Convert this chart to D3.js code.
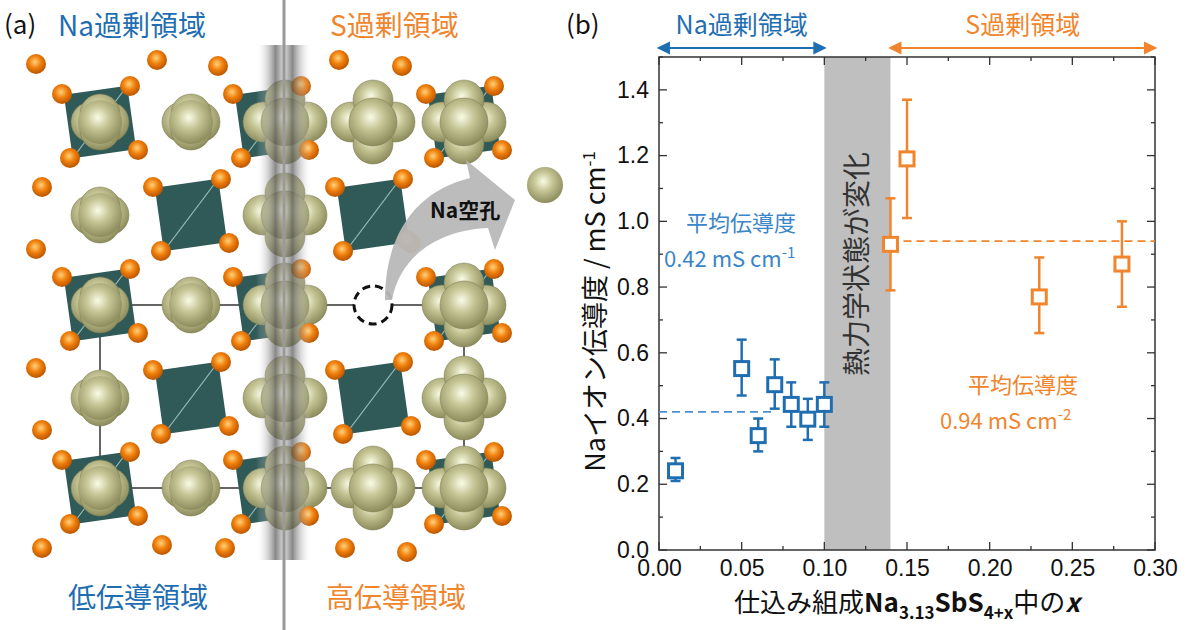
<!DOCTYPE html>
<html><head><meta charset="utf-8">
<script src="https://cdn.jsdelivr.net/npm/d3@7/dist/d3.min.js"></script>
<style>body{margin:0;background:#fff}text{font-family:"Noto Sans CJK JP","Noto Sans",sans-serif}</style>
</head><body><svg id="c" width="1200" height="630"></svg>
<script>
const blueX=[0.01,0.05,0.06,0.07,0.08,0.09,0.10];
const blueY=[0.241,0.552,0.348,0.503,0.443,0.398,0.443];
const blueLo=[0.21,0.47,0.30,0.43,0.375,0.335,0.375];
const blueHi=[0.28,0.64,0.40,0.58,0.51,0.46,0.51];
const orX=[0.14,0.15,0.23,0.28];
const orY=[0.93,1.19,0.77,0.87];
const orLo=[0.79,1.01,0.66,0.74];
const orHi=[1.07,1.37,0.89,1.00];
const xTicks=[0,0.05,0.10,0.15,0.20,0.25,0.30];
const yTicks=[0,0.2,0.4,0.6,0.8,1.0,1.2,1.4];
const blueMean=0.42, orMean=0.94, band=[0.10,0.14];
// crystal illustration sites
const tetra=[[100,122],[191,215],[100,305],[191,398],[100,488],[271,122],[271,305],[271,488],[373,215],[373,398],[464,122],[464,305],[464,488]];
const naSingle=[[100,122],[191,122],[100,215],[100,305],[191,305],[100,398],[100,488],[191,488]];
const naCluster=[[285,122],[285,215],[285,305],[285,398],[285,488],[373,122],[373,488],[464,122],[464,305],[464,398],[464,488]];
const sLoose=[[36,64],[157,60],[218,66],[339,60],[402,66],[42,187],[36,249],[36,368],[42,430],[42,548],[162,545],[225,548],[345,548],[407,552],[407,240]];

const B="#1f6eb1",O="#f0852d";
const svg=d3.select("#c");
const defs=svg.append("defs");
const rg=defs.append("radialGradient").attr("id","gs").attr("cx","45%").attr("cy","40%").attr("r","60%");
rg.append("stop").attr("offset","0%").attr("stop-color","#fbfbe6");
rg.append("stop").attr("offset","45%").attr("stop-color","#c4c494");
rg.append("stop").attr("offset","100%").attr("stop-color","#8c8c5c");
const ro=defs.append("radialGradient").attr("id","os").attr("cx","45%").attr("cy","40%").attr("r","60%");
ro.append("stop").attr("offset","0%").attr("stop-color","#ffd27a");
ro.append("stop").attr("offset","50%").attr("stop-color","#f07f0c");
ro.append("stop").attr("offset","100%").attr("stop-color","#b85500");
const sh=defs.append("linearGradient").attr("id","sh");
[[0,"#fff",0],[0.35,"#555",0.7],[0.5,"#999",0.4],[0.65,"#555",0.7],[1,"#fff",0]].forEach(s=>sh.append("stop").attr("offset",s[0]).attr("stop-color",s[1]).attr("stop-opacity",s[2]));

// ---- panel (a)
const A=svg.append("g");
A.append("path").attr("d","M100,305H464M100,488H464M100,305V488M464,305V488").attr("stroke","#333").attr("stroke-width",1.5).attr("fill","none");
tetra.forEach(([x,y])=>{
  const g=A.append("g").attr("transform",`translate(${x},${y}) rotate(-8)`);
  g.append("rect").attr("x",-32).attr("y",-32).attr("width",64).attr("height",64).attr("fill","#2f5a58");
  g.append("line").attr("x1",-30).attr("y1",30).attr("x2",30).attr("y2",-30).attr("stroke","#9bb").attr("stroke-width",1);
});
naSingle.forEach(([x,y])=>{
  [[-9,0],[9,0],[0,-8],[0,8]].forEach(d=>A.append("circle").attr("cx",x+d[0]).attr("cy",y+d[1]).attr("r",20).attr("fill","url(#gs)").attr("stroke","#7a7a50").attr("stroke-width",0.5));
  A.append("circle").attr("cx",x).attr("cy",y).attr("r",22).attr("fill","url(#gs)");
});
naCluster.forEach(([x,y])=>{
  [[-22,0],[22,0],[0,-22],[0,22]].forEach(d=>A.append("circle").attr("cx",x+d[0]).attr("cy",y+d[1]).attr("r",20).attr("fill","url(#gs)").attr("stroke","#7a7a50").attr("stroke-width",0.5));
  A.append("circle").attr("cx",x).attr("cy",y).attr("r",24).attr("fill","url(#gs)").attr("stroke","#7a7a50").attr("stroke-width",0.5);
});
tetra.forEach(([x,y])=>{
  [[-38,-28],[30,-36],[-30,36],[38,28]].forEach(d=>A.append("circle").attr("cx",x+d[0]).attr("cy",y+d[1]).attr("r",10).attr("fill","url(#os)"));
});
sLoose.forEach(([x,y])=>A.append("circle").attr("cx",x).attr("cy",y).attr("r",10).attr("fill","url(#os)"));
A.append("rect").attr("x",256).attr("y",45).attr("width",56).attr("height",515).attr("fill","url(#sh)");
A.append("line").attr("x1",284).attr("x2",284).attr("y1",0).attr("y2",630).attr("stroke","#999").attr("stroke-width",3);
// vacancy & arrow
A.append("circle").attr("cx",373).attr("cy",305).attr("r",19).attr("fill","#fff").attr("stroke","#111").attr("stroke-width",3).attr("stroke-dasharray","8,5");
A.append("path").attr("d","M385,300 C385,230 420,190 470,178 L466,160 L515,200 L495,250 L488,228 C440,230 400,255 392,300 Z").attr("fill","#b8b8b8").attr("opacity",0.95);
A.append("circle").attr("cx",545).attr("cy",185).attr("r",18).attr("fill","url(#gs)");
A.append("text").attr("x",430).attr("y",218).attr("font-size",21).attr("font-weight","bold").attr("fill","#111").text("Na空孔");
A.append("text").attr("x",4).attr("y",34).attr("font-size",26).attr("fill","#111").text("(a)");
A.append("text").attr("x",58).attr("y",36).attr("font-size",28).attr("fill",B).text("Na過剰領域");
A.append("text").attr("x",330).attr("y",36).attr("font-size",28).attr("fill",O).text("S過剰領域");
A.append("text").attr("x",68).attr("y",608).attr("font-size",28).attr("fill",B).text("低伝導領域");
A.append("text").attr("x",326).attr("y",608).attr("font-size",28).attr("fill",O).text("高伝導領域");

// ---- panel (b)
const L=659,R=1155,T=57,Bo=550;
const x=d3.scaleLinear().domain([0,0.30]).range([L,R]);
const y=d3.scaleLinear().domain([0,1.5]).range([Bo,T]);
const P=svg.append("g");
P.append("rect").attr("x",x(band[0])).attr("y",T).attr("width",x(band[1])-x(band[0])).attr("height",Bo-T).attr("fill","#bfbfbf");
P.append("text").attr("transform",`translate(${(x(band[0])+x(band[1]))/2+10},${y(0.87)}) rotate(-90)`).attr("text-anchor","middle").attr("font-size",28).attr("fill","#333").text("熱力学状態が変化");
const ax=d3.axisBottom(x).tickValues(xTicks).tickFormat(d3.format(".2f")).tickSize(0).tickPadding(10);
const gx=P.append("g").attr("transform",`translate(0,${Bo})`).call(ax);
gx.select(".domain").remove();
gx.selectAll("text").attr("font-size",23).attr("fill","#111").style("font-family","Arial,Liberation Sans");
const ay=d3.axisLeft(y).tickValues(yTicks).tickFormat(d3.format(".1f")).tickSize(0).tickPadding(10);
const gy=P.append("g").attr("transform",`translate(${L},0)`).call(ay);
gy.select(".domain").remove();
gy.selectAll("text").attr("font-size",23).attr("fill","#111").style("font-family","Arial,Liberation Sans");
const tk=P.append("g").attr("stroke","#333").attr("stroke-width",1.3);
d3.range(0,0.3001,0.025).forEach((v,i)=>{const l=i%2?4:8;
  tk.append("line").attr("x1",x(v)).attr("x2",x(v)).attr("y1",Bo).attr("y2",Bo-l);
  tk.append("line").attr("x1",x(v)).attr("x2",x(v)).attr("y1",T).attr("y2",T+l);});
d3.range(0,1.5001,0.1).forEach((v,i)=>{const l=i%2?4:8;
  tk.append("line").attr("y1",y(v)).attr("y2",y(v)).attr("x1",L).attr("x2",L+l);
  tk.append("line").attr("y1",y(v)).attr("y2",y(v)).attr("x1",R).attr("x2",R-l);});
P.append("rect").attr("x",L).attr("y",T).attr("width",R-L).attr("height",Bo-T).attr("fill","none").attr("stroke","#333").attr("stroke-width",1.5);
P.append("line").attr("x1",x(0)).attr("x2",x(0.07)).attr("y1",y(blueMean)).attr("y2",y(blueMean)).attr("stroke","#4a90d0").attr("stroke-width",1.8).attr("stroke-dasharray","8,5");
P.append("line").attr("x1",x(0.14)).attr("x2",x(0.30)).attr("y1",y(orMean)).attr("y2",y(orMean)).attr("stroke",O).attr("stroke-width",1.8).attr("stroke-dasharray","8,5");
function series(X,Y,Lo,Hi,c){
  X.forEach((xv,i)=>{
    const g=P.append("g").attr("stroke",c).attr("stroke-width",2.5).attr("fill","none");
    g.append("line").attr("x1",x(xv)).attr("x2",x(xv)).attr("y1",y(Lo[i])).attr("y2",y(Hi[i]));
    [Lo[i],Hi[i]].forEach(v=>g.append("line").attr("x1",x(xv)-5).attr("x2",x(xv)+5).attr("y1",y(v)).attr("y2",y(v)));
    g.append("rect").attr("x",x(xv)-7).attr("y",y(Y[i])-7).attr("width",14).attr("height",14).attr("fill","#fff").attr("stroke-width",3);
  });
}
series(blueX,blueY,blueLo,blueHi,B);
series(orX,orY,orLo,orHi,O);
P.append("text").attr("x",741).attr("y",231).attr("text-anchor","middle").attr("font-size",22).attr("fill","#3a86c8").text("平均伝導度");
const t1=P.append("text").attr("x",664).attr("y",267).attr("font-size",22).attr("fill","#3a86c8");
t1.append("tspan").text("0.42 mS cm");t1.append("tspan").attr("dy",-9).attr("font-size",15).text("-1");
P.append("text").attr("x",1023).attr("y",393).attr("text-anchor","middle").attr("font-size",22).attr("fill",O).text("平均伝導度");
const t2=P.append("text").attr("x",940).attr("y",429).attr("font-size",22).attr("fill",O);
t2.append("tspan").text("0.94 mS cm");t2.append("tspan").attr("dy",-9).attr("font-size",15).text("-2");
const ar=(x1,x2,c)=>{const g=P.append("g").attr("stroke",c).attr("fill",c).attr("stroke-width",2);
  g.append("line").attr("x1",x1+4).attr("x2",x2-4).attr("y1",48).attr("y2",48);
  g.append("path").attr("d",`M${x1},48 l10,-5 v10 z`);g.append("path").attr("d",`M${x2},48 l-10,-5 v10 z`);};
ar(x(0),x(0.10),B); ar(x(0.14),x(0.30),O);
P.append("text").attr("x",(x(0)+x(0.10))/2).attr("y",34).attr("text-anchor","middle").attr("font-size",25).attr("fill",B).text("Na過剰領域");
P.append("text").attr("x",(x(0.14)+x(0.30))/2).attr("y",34).attr("text-anchor","middle").attr("font-size",25).attr("fill",O).text("S過剰領域");
P.append("text").attr("x",566).attr("y",34).attr("font-size",26).attr("fill","#111").text("(b)");
const yl=P.append("text").attr("transform",`translate(605,${(T+Bo)/2+8}) rotate(-90)`).attr("text-anchor","middle").attr("font-size",27).attr("fill","#111");
yl.append("tspan").text("Naイオン伝導度 / mS cm");yl.append("tspan").attr("dy",-10).attr("font-size",17).text("-1");
const xl=P.append("text").attr("x",907).attr("y",612).attr("text-anchor","middle").attr("font-size",26).attr("fill","#111");
xl.append("tspan").text("仕込み組成");
xl.append("tspan").attr("font-weight","bold").text("Na");
xl.append("tspan").attr("font-weight","bold").attr("font-size",17).attr("dy",7).text("3.13");
xl.append("tspan").attr("font-weight","bold").attr("dy",-7).text("SbS");
xl.append("tspan").attr("font-weight","bold").attr("font-size",17).attr("dy",7).text("4+x");
xl.append("tspan").attr("dy",-7).text("中の");
xl.append("tspan").attr("font-weight","bold").attr("font-style","italic").text("x");
</script></body></html>
